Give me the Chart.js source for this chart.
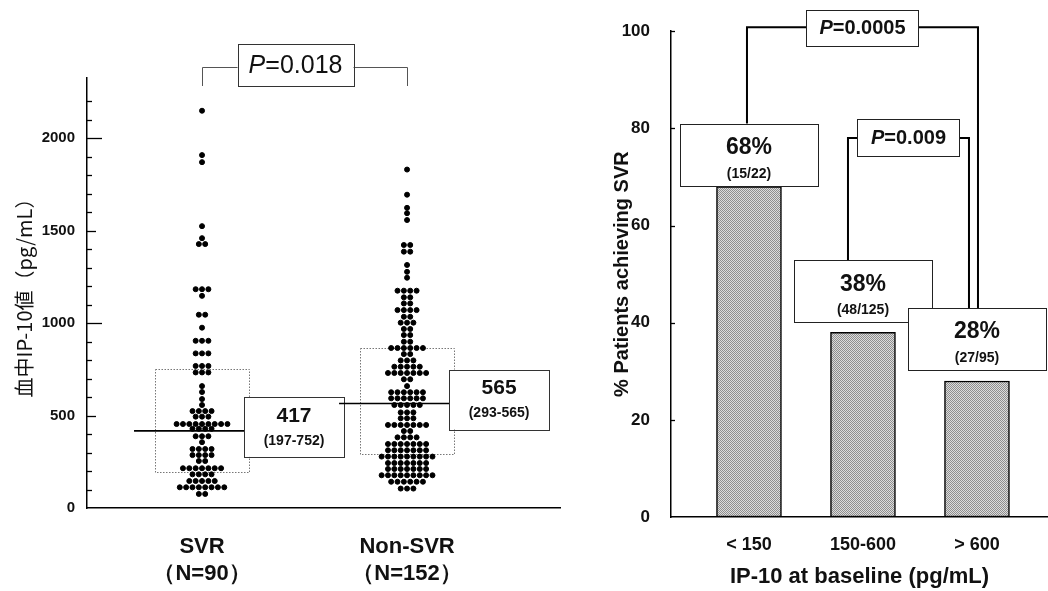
<!DOCTYPE html>
<html>
<head>
<meta charset="utf-8">
<script src="https://cdn.jsdelivr.net/npm/chart.js@4.4.0/dist/chart.umd.min.js"></script>
<style>
  body { margin: 0; background: #fff; width: 1048px; height: 591px; overflow: hidden; position: relative; }
  .panel { position: absolute; top: 0; height: 591px; }
</style>
</head>
<body>
<div class="panel" style="left:0;width:590px"><canvas id="ipChart"></canvas></div>
<div class="panel" style="left:590px;width:458px"><canvas id="svrChart"></canvas></div>
<script>
Chart.defaults.font.family = "'Liberation Sans', Arial, sans-serif";
Chart.defaults.color = '#111';
Chart.defaults.animation = false;

// left panel: serum IP-10 by response (dots binned into rows)
const groups = ['SVR', 'Non-SVR'];
const groupN = ['（N=90）', '（N=152）'];
const svrLevels = [2148, 1908, 1870, 1524, 1459, 1427, 1183, 1147, 1045, 975, 904, 836, 768, 733, 659, 627, 589, 557, 524, 494, 454, 428, 388, 356, 319, 286, 254, 215, 182, 146, 112, 76];
const svrCounts = [1, 1, 1, 1, 1, 2, 3, 1, 2, 1, 3, 3, 3, 3, 1, 1, 1, 1, 4, 3, 9, 4, 3, 1, 4, 4, 2, 7, 4, 5, 8, 2];
const nonSvrLevels = [1830, 1694, 1623, 1594, 1557, 1422, 1386, 1314, 1277, 1245, 1175, 1139, 1106, 1070, 1034, 1002, 968, 935, 899, 865, 832, 798, 764, 730, 696, 659, 626, 593, 557, 517, 485, 449, 416, 382, 346, 312, 278, 243, 211, 177, 142, 105];
const nonSvrCounts = [1, 1, 1, 1, 1, 2, 2, 1, 1, 1, 4, 2, 2, 4, 2, 3, 2, 2, 2, 6, 2, 3, 5, 7, 2, 1, 6, 6, 5, 3, 3, 7, 2, 4, 7, 7, 9, 7, 7, 9, 6, 3];
const medianIp = [417, 565];
const q1Ip = [197, 293];
const q3Ip = [752, 867];
const medianLabels = ['417', '565'];
const rangeLabels = ['(197-752)', '(293-565)'];
const pLeft = '0.018';

// right panel: SVR rate by baseline IP-10
const ipBins = ['< 150', '150-600', '> 600'];
const svrRate = [68, 38, 28];
const rateLabels = ['68%', '38%', '28%'];
const countLabels = ['(15/22)', '(48/125)', '(27/95)'];
const pRight = ['0.0005', '0.009'];

const FAM = "'Liberation Sans', Arial, sans-serif";

function swarm(levels, counts, center) {
  const pts = [];
  levels.forEach((v, i) => {
    const n = counts[i];
    for (let j = 0; j < n; j++) {
      pts.push({ x: center + (j - (n - 1) / 2) * 0.031, y: v });
    }
  });
  return pts;
}

function whiteBox(ctx, x, y, w, h, color) {
  ctx.save();
  ctx.fillStyle = '#fff';
  ctx.fillRect(x, y, w, h);
  ctx.strokeStyle = color || '#222';
  ctx.lineWidth = 1;
  ctx.setLineDash([]);
  ctx.strokeRect(Math.round(x) + 0.5, Math.round(y) + 0.5, Math.round(w), Math.round(h));
  ctx.restore();
}

function drawP(ctx, cx, cy, val, size, weight) {
  const italic = `italic ${weight} ${size}px ${FAM}`;
  const plain = `${weight} ${size}px ${FAM}`;
  ctx.save();
  ctx.font = italic;
  const w1 = ctx.measureText('P').width;
  ctx.font = plain;
  const w2 = ctx.measureText('=' + val).width;
  const x = cx - (w1 + w2) / 2;
  ctx.textBaseline = 'middle';
  ctx.textAlign = 'left';
  ctx.fillStyle = '#111';
  ctx.font = italic;
  ctx.fillText('P', x, cy);
  ctx.font = plain;
  ctx.fillText('=' + val, x + w1, cy);
  ctx.restore();
}

function text(ctx, str, x, y, size) {
  ctx.save();
  ctx.font = `bold ${size}px ${FAM}`;
  ctx.fillStyle = '#111';
  ctx.textAlign = 'center';
  ctx.textBaseline = 'middle';
  ctx.fillText(str, x, y);
  ctx.restore();
}

// tick marks drawn on the inside of the y axis
function innerTicks(lenFor) {
  return {
    id: 'innerTicks',
    afterDraw(chart) {
      const { ctx, chartArea } = chart;
      const ys = chart.scales.y;
      ctx.save();
      ctx.strokeStyle = '#000';
      ctx.lineWidth = 1.3;
      ys.ticks.forEach(t => {
        const len = lenFor(t.value);
        if (!len) return;
        const y = Math.round(ys.getPixelForValue(t.value)) + 0.5;
        ctx.beginPath();
        ctx.moveTo(chartArea.left, y);
        ctx.lineTo(chartArea.left + len, y);
        ctx.stroke();
      });
      ctx.restore();
    }
  };
}

const ipDecor = {
  id: 'ipDecor',
  beforeDatasetsDraw(chart) {
    const { ctx } = chart;
    const xs = chart.scales.x, ys = chart.scales.y;
    ctx.save();
    ctx.strokeStyle = '#777';
    ctx.lineWidth = 1;
    ctx.setLineDash([1.5, 1.5]);
    groups.forEach((g, i) => {
      const cx = xs.getPixelForValue(i);
      const top = ys.getPixelForValue(q3Ip[i]);
      const bot = ys.getPixelForValue(q1Ip[i]);
      ctx.strokeRect(Math.round(cx - 47) + 0.5, Math.round(top) + 0.5, 94, Math.round(bot - top));
    });
    ctx.restore();
  },
  afterDatasetsDraw(chart) {
    const { ctx, chartArea } = chart;
    const xs = chart.scales.x, ys = chart.scales.y;
    groups.forEach((g, i) => {
      const cx = xs.getPixelForValue(i);
      const my = ys.getPixelForValue(medianIp[i]);
      ctx.save();
      ctx.strokeStyle = '#000';
      ctx.lineWidth = 1.6;
      ctx.beginPath();
      ctx.moveTo(cx - 68, my);
      ctx.lineTo(cx + 42, my);
      ctx.stroke();
      ctx.restore();
      whiteBox(ctx, cx + 42, my - 34, 100, 60, '#333');
      text(ctx, medianLabels[i], cx + 92, my - 15, 21);
      text(ctx, rangeLabels[i], cx + 92, my + 10, 14);
    });
    // P value bracket above the groups
    const x0 = xs.getPixelForValue(0), x1 = xs.getPixelForValue(1);
    const yb = chartArea.top - 11;
    ctx.save();
    ctx.strokeStyle = '#555';
    ctx.lineWidth = 1;
    ctx.beginPath();
    ctx.moveTo(Math.round(x0) + 0.5, chartArea.top + 8);
    ctx.lineTo(Math.round(x0) + 0.5, yb + 0.5);
    ctx.lineTo(Math.round(x1) + 0.5, yb + 0.5);
    ctx.lineTo(Math.round(x1) + 0.5, chartArea.top + 8);
    ctx.stroke();
    ctx.restore();
    const mid = (x0 + x1) / 2 - 9;
    whiteBox(ctx, mid - 58, yb - 23, 116, 42, '#333');
    drawP(ctx, mid, yb - 1, pLeft, 25, 'normal');
  }
};

new Chart(document.getElementById('ipChart'), {
  type: 'scatter',
  data: {
    datasets: [
      { label: groups[0], data: swarm(svrLevels, svrCounts, 0), backgroundColor: '#000', borderColor: '#000', pointRadius: 2.5, pointHoverRadius: 2.5 },
      { label: groups[1], data: swarm(nonSvrLevels, nonSvrCounts, 1), backgroundColor: '#000', borderColor: '#000', pointRadius: 2.5, pointHoverRadius: 2.5 }
    ]
  },
  options: {
    responsive: true,
    maintainAspectRatio: false,
    layout: { padding: { top: 78, right: 30, left: 0, bottom: 0 } },
    plugins: { legend: { display: false }, tooltip: { enabled: false } },
    scales: {
      x: {
        type: 'linear',
        min: -0.561,
        max: 1.746,
        grid: { display: false, drawTicks: false },
        border: { display: true, color: '#000', width: 1.5 },
        afterBuildTicks: s => { s.ticks = groups.map((g, i) => ({ value: i })); },
        afterFit: s => { s.height = 83; },
        ticks: {
          autoSkip: false,
          maxRotation: 0,
          padding: 25,
          color: '#111',
          font: { size: 22, weight: 'bold', lineHeight: 1.25 },
          callback: v => [groups[v], groupN[v]]
        }
      },
      y: {
        min: 0,
        max: 2325,
        grid: { display: false, drawTicks: false },
        border: { display: true, color: '#000', width: 1.5 },
        afterFit: s => { s.width = 87; },
        ticks: {
          stepSize: 100,
          maxTicksLimit: 40,
          autoSkip: false,
          padding: 12,
          color: '#111',
          font: { size: 15, weight: 'bold' },
          callback: v => (v % 500 === 0 ? v : '')
        },
        title: {
          display: true,
          text: '血中IP-10値（pg/mL）',
          color: '#111',
          font: { family: "'Noto Sans CJK JP', sans-serif", size: 20 },
          padding: { top: 12, bottom: 0 }
        }
      }
    }
  },
  plugins: [ipDecor, innerTicks(v => {
    if (v <= 0 || v % 100 !== 0) return 0;
    if (v % 1000 === 0) return 15;
    if (v % 500 === 0) return 9;
    return 5;
  })]
});

// right panel
function stipple() {
  const c = document.createElement('canvas');
  c.width = 2;
  c.height = 2;
  const g = c.getContext('2d');
  g.fillStyle = '#dcdcdc';
  g.fillRect(0, 0, 2, 2);
  g.fillStyle = '#8e8e8e';
  g.fillRect(0, 0, 1, 1);
  g.fillRect(1, 1, 1, 1);
  return g.createPattern(c, 'repeat');
}

const svrDecor = {
  id: 'svrDecor',
  afterDatasetsDraw(chart) {
    const { ctx, chartArea } = chart;
    const xs = chart.scales.x, ys = chart.scales.y;
    const labelGap = [1, 10, 11];
    const cx = i => xs.getPixelForValue(i);
    const boxTop = i => ys.getPixelForValue(svrRate[i]) - labelGap[i] - 62;
    const yA = chartArea.top - 4;
    const yB = ys.getPixelForValue(78);
    const aL = cx(0) - 2, aR = cx(2) + 1;
    const bL = cx(1) - 15, bR = cx(2) - 8;

    ctx.save();
    ctx.strokeStyle = '#000';
    ctx.lineWidth = 2;
    ctx.beginPath();
    ctx.moveTo(aL, boxTop(0));
    ctx.lineTo(aL, yA);
    ctx.lineTo(aR, yA);
    ctx.lineTo(aR, boxTop(2));
    ctx.moveTo(bL, boxTop(1));
    ctx.lineTo(bL, yB);
    ctx.lineTo(bR, yB);
    ctx.lineTo(bR, boxTop(2));
    ctx.stroke();
    ctx.restore();

    svrRate.forEach((r, i) => {
      const top = boxTop(i);
      whiteBox(ctx, cx(i) - 69, top, 138, 62, '#222');
      text(ctx, rateLabels[i], cx(i), top + 24, 23);
      text(ctx, countLabels[i], cx(i), top + 50, 14);
    });

    const ma = (aL + aR) / 2;
    whiteBox(ctx, ma - 56, yA - 17, 112, 36, '#222');
    drawP(ctx, ma, yA + 1, pRight[0], 20, 'bold');
    const mb = (bL + bR) / 2;
    whiteBox(ctx, mb - 51, yB - 19, 102, 37, '#222');
    drawP(ctx, mb, yB, pRight[1], 20, 'bold');
  }
};

new Chart(document.getElementById('svrChart'), {
  type: 'bar',
  data: {
    datasets: [{
      label: '% Patients achieving SVR',
      data: svrRate.map((r, i) => ({ x: i, y: r })),
      backgroundColor: stipple(),
      borderColor: '#000',
      borderWidth: 1.5,
      borderSkipped: false,
      barThickness: 65
    }]
  },
  options: {
    responsive: true,
    maintainAspectRatio: false,
    layout: { padding: { top: 29, right: 0, left: 0, bottom: 0 } },
    plugins: { legend: { display: false }, tooltip: { enabled: false } },
    scales: {
      x: {
        type: 'linear',
        offset: false,
        min: -0.684,
        max: 2.623,
        grid: { display: false, drawTicks: false, offset: false },
        border: { display: true, color: '#000', width: 1.5 },
        afterBuildTicks: s => { s.ticks = ipBins.map((b, i) => ({ value: i })); },
        afterFit: s => { s.height = 74; },
        ticks: {
          autoSkip: false,
          maxRotation: 0,
          padding: 17,
          color: '#111',
          font: { size: 18, weight: 'bold' },
          callback: v => ipBins[v]
        },
        title: {
          display: true,
          text: 'IP-10 at baseline (pg/mL)',
          color: '#111',
          font: { size: 22, weight: 'bold' },
          padding: { top: 0, bottom: 1 }
        }
      },
      y: {
        min: 0,
        max: 100,
        grid: { display: false, drawTicks: false },
        border: { display: true, color: '#000', width: 1.5 },
        afterFit: s => { s.width = 81; },
        ticks: {
          stepSize: 20,
          autoSkip: false,
          padding: 21,
          color: '#111',
          font: { size: 17, weight: 'bold' }
        },
        title: {
          display: true,
          text: '% Patients achieving SVR',
          color: '#111',
          font: { size: 20, weight: 'bold' },
          padding: { top: 20, bottom: 0 }
        }
      }
    }
  },
  plugins: [svrDecor, innerTicks(v => (v > 0 ? 4 : 0))]
});
</script>
</body>
</html>
